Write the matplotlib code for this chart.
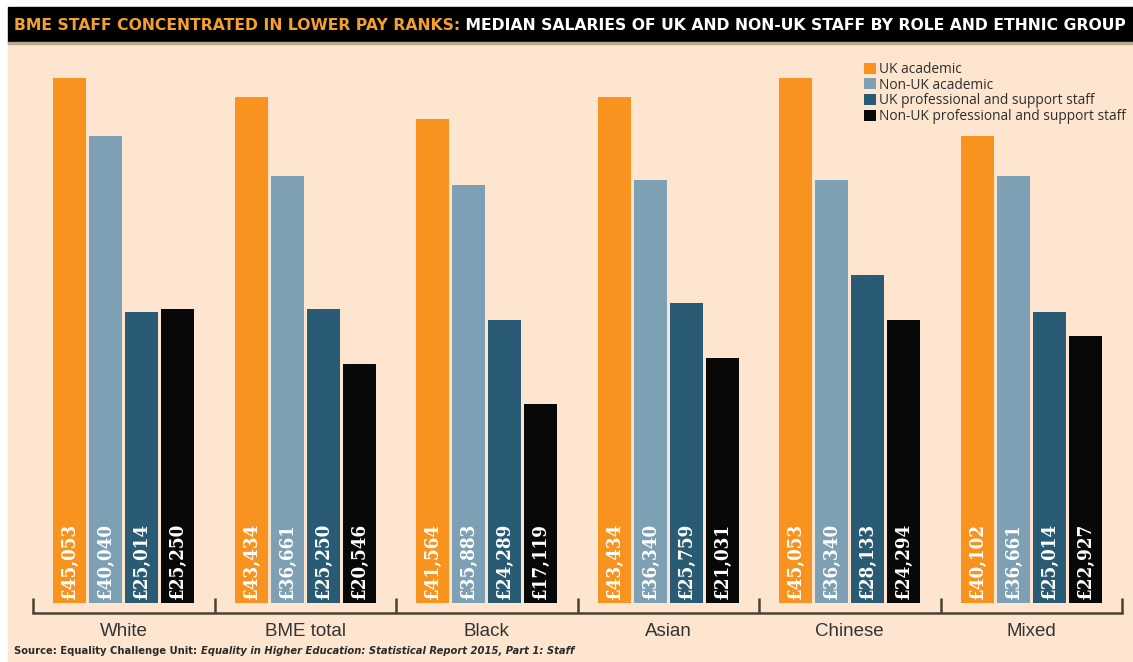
import numpy as np
import matplotlib.pyplot as plt
from matplotlib.patches import Rectangle
from matplotlib.ticker import FixedLocator
from matplotlib import font_manager

# 数据
categories = ['White', 'BME total', 'Black', 'Asian', 'Chinese', 'Mixed']
series_names = ['UK academic', 'Non-UK academic',
                'UK professional and support staff',
                'Non-UK professional and support staff']
uk_academic = [45053, 43434, 41564, 43434, 45053, 40102]
nonuk_academic = [40040, 36661, 35883, 36340, 36340, 36661]
uk_prof = [25014, 25250, 24289, 25759, 28133, 25014]
nonuk_prof = [25250, 20546, 17119, 21031, 24294, 22927]

colors = ['#F7931E', '#7DA0B5', '#295B74', '#080808']
bg = '#FDE5CF'
bracket = '#4A4333'

names = {f.name for f in font_manager.fontManager.ttflist}
narrow = 'Liberation Sans Narrow' if 'Liberation Sans Narrow' in names else 'DejaVu Sans'

W, H = 1133, 662
fig = plt.figure(figsize=(W / 100, H / 100), dpi=100, facecolor='white')

# 主图
ax = fig.add_axes([33 / W, 1 - 613 / H, (1122 - 33) / W, (613 - 46) / H])
ax.set_facecolor('none')

# 背景和标题栏
fig.patches.append(Rectangle((8 / W, 0), 1 - 8 / W, 1 - 43 / H,
                             transform=fig.transFigure, color=bg, zorder=-3))
fig.patches.append(Rectangle((8 / W, 1 - 42 / H), 1 - 8 / W, 35 / H,
                             transform=fig.transFigure, color='black', zorder=-2))
fig.patches.append(Rectangle((8 / W, 1 - 44 / H), 1 - 8 / W, 2 / H,
                             transform=fig.transFigure, color='#B8A890', zorder=-2))

x = np.arange(len(categories))
step = 36 / 181.5
width = 33 / 181.5
all_series = [uk_academic, nonuk_academic, uk_prof, nonuk_prof]
for i, (vals, c, name) in enumerate(zip(all_series, colors, series_names)):
    xs = x + (i - 1.5) * step
    ax.bar(xs, vals, width=width, color=c, label=name, zorder=2)
    for xi, v in zip(xs, vals):
        ax.annotate(f'£{v:,}', xy=(xi, 0), xytext=(0, 3), textcoords='offset points',
                    rotation=90, ha='center', va='bottom', color='white',
                    fontsize=13.5, fontweight='bold', family='DejaVu Serif',
                    fontstretch='condensed', zorder=3)

ax.set_xlim(-0.5, 5.5)
ax.set_ylim(-858, 47800)
for s in ['top', 'left', 'right']:
    ax.spines[s].set_visible(False)
ax.spines['bottom'].set_color(bracket)
ax.spines['bottom'].set_linewidth(1.8)
ax.set_yticks([])
ax.set_xticks(x)
ax.set_xticklabels(categories, fontsize=13.5, color='#333333', family='Liberation Sans')
ax.tick_params(axis='x', which='major', length=0, pad=7)
ax.xaxis.set_minor_locator(FixedLocator(np.arange(-0.5, len(categories), 1.0)))
ax.tick_params(axis='x', which='minor', direction='in', length=10.5, width=1.8,
               color=bracket)

leg = ax.legend(loc='upper left', bbox_to_anchor=(857 / W, 1 - 55 / H),
                bbox_transform=fig.transFigure, frameon=False, borderpad=0,
                handlelength=0.85, handleheight=0.85, handletextpad=0.25,
                labelspacing=0.05, prop={'family': 'Open Sans', 'size': 9.9})
for t in leg.get_texts():
    t.set_color('#2E2E2E')

# 标题（两种颜色）
t1 = fig.text(14 / W, 1 - 25 / H, 'BME STAFF CONCENTRATED IN LOWER PAY RANKS:',
              color='#F3A02E', fontsize=15, fontweight='bold', family=narrow,
              va='center', ha='left')
t2 = ax.annotate(' MEDIAN SALARIES OF UK AND NON-UK STAFF BY ROLE AND ETHNIC GROUP',
                 xy=(1, 0.5), xycoords=t1, va='center', ha='left',
                 color='white', fontsize=15, fontweight='bold', family=narrow,
                 annotation_clip=False)

# 来源
src = fig.text(14 / W, 1 - 651 / H, 'Source: Equality Challenge Unit: ',
               fontsize=7.5, fontweight='bold', color='#2A2A2A',
               family=narrow, va='center', ha='left')
ax.annotate('Equality in Higher Education: Statistical Report 2015, Part 1: Staff',
            xy=(1, 0.5), xycoords=src, va='center', ha='left',
            fontsize=7.5, fontweight='bold', fontstyle='italic', color='#2A2A2A',
            family=narrow, annotation_clip=False)

# 按目标宽度缩放标题字号
fig.canvas.draw()
r = fig.canvas.get_renderer()
total = t1.get_window_extent(r).width + t2.get_window_extent(r).width
scale = (1122 - 14) / total
t1.set_fontsize(15 * scale)
t2.set_fontsize(15 * scale)
src_total = 575 - 14
fig.canvas.draw()
sw = src.get_window_extent(r).width + ax.texts[-1].get_window_extent(r).width
for t in (src, ax.texts[-1]):
    t.set_fontsize(7.5 * src_total / sw)

plt.savefig('out.png', dpi=100, facecolor=fig.get_facecolor())
